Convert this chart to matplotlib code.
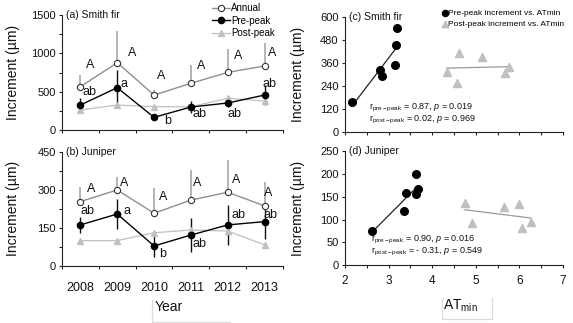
import numpy as np
import matplotlib
matplotlib.use("Agg")
import matplotlib.pyplot as plt
from matplotlib.lines import Line2D
from matplotlib.ticker import MultipleLocator, FixedLocator

plt.rcParams["font.family"] = ["Liberation Sans", "DejaVu Sans"]
plt.rcParams["mathtext.fontset"] = "custom"
plt.rcParams["mathtext.rm"] = "Liberation Sans"
plt.rcParams["mathtext.it"] = "Liberation Sans:italic"
plt.rcParams["mathtext.default"] = "regular"

# ---- data ----
years = ["2008", "2009", "2010", "2011", "2012", "2013"]

fir_annual = [565, 878, 456, 609, 752, 835]
fir_annual_err = [152, 417, 60, 239, 300, 295]
fir_pre = [326, 552, 165, 300, 352, 456]
fir_pre_err = [87, 235, 30, 80, 50, 135]
fir_post = [261, 326, 304, 304, 413, 378]
fir_upper = ["A", "A", "A", "A", "A", "A"]
fir_lower = ["ab", "a", "b", "ab", "ab", "ab"]

jun_annual = [253, 299, 207, 259, 290, 236]
jun_annual_err = [59, 52, 98, 119, 127, 93]
jun_pre = [161, 204, 78, 121, 161, 174]
jun_pre_err = [33, 60, 42, 66, 79, 70]
jun_post = [99, 99, 130, 141, 137, 82]
jun_upper = ["A", "A", "A", "A", "A", "A"]
jun_lower = ["ab", "a", "b", "ab", "ab", "ab"]

fir_pre_at = [2.17, 2.80, 2.84, 3.15, 3.18, 3.20]
fir_pre_inc = [157, 322, 292, 348, 452, 539]
fir_post_at = [4.33, 4.62, 4.57, 5.15, 5.66, 5.76]
fir_post_inc = [313, 412, 256, 388, 304, 339]

jun_pre_at = [2.61, 3.35, 3.41, 3.63, 3.63, 3.68]
jun_pre_inc = [75, 119, 159, 200, 156, 167]
jun_post_at = [4.75, 4.92, 5.65, 5.99, 6.07, 6.26]
jun_post_inc = [137, 92, 128, 134, 81, 95]

fir_stats = ["0.87", "0.019", "0.02", "0.969"]
jun_stats = ["0.90", "0.016", "- 0.31", "0.549"]

# letter placement (x offset in categories, y in data units)
fir_upper_pos = [(0.27, 848), (0.41, 1008), (0.18, 704), (0.27, 835), (0.28, 965), (0.21, 1000)]
fir_lower_pos = [(0.26, 491), (0.18, 600), (0.37, 122), (0.22, 204), (0.19, 204), (0.14, 596)]
jun_upper_pos = [(0.30, 302), (0.18, 328), (0.24, 272), (0.17, 325), (0.22, 338), (0.10, 288)]
jun_lower_pos = [(0.18, 216), (0.27, 216), (0.22, 46), (0.24, 86), (0.30, 200), (0.15, 200)]

C_ANN = "#8f8f8f"
C_POST = "#c0c0c0"
TXT = "#111111"

W, H = 573, 323
fig = plt.figure(figsize=(W / 100, H / 100), dpi=100)


def box(x0, y0, x1, y1):
    return [x0 / W, 1 - y1 / H, (x1 - x0) / W, (y1 - y0) / H]


ax_a = fig.add_axes(box(62, 15, 283, 130))
ax_b = fig.add_axes(box(62, 151.7, 283, 265.7))
ax_c = fig.add_axes(box(345, 16.7, 563, 131.7))
ax_d = fig.add_axes(box(345, 151.3, 563, 265))


def style(ax):
    for s in ("top", "right"):
        ax.spines[s].set_visible(False)
    for s in ("left", "bottom"):
        ax.spines[s].set_linewidth(0.8)
        ax.spines[s].set_color("#222222")
    ax.tick_params(which="both", direction="out", length=2.5, width=0.8,
                   colors="#222222", labelsize=8, pad=2, labelcolor=TXT)
    ax.tick_params(which="minor", length=2.5)


def series_panel(ax, annual, annual_err, pre, pre_err, post, upper, lower,
                 upper_pos, lower_pos, ymax, ystep, title, show_x):
    x = np.arange(len(years))
    ax.errorbar(x, annual, yerr=[np.zeros(len(x)), annual_err], fmt="none",
                ecolor="#a8a8a8", elinewidth=1.2, capsize=0, zorder=1)
    ax.errorbar(x, pre, yerr=pre_err, fmt="none", ecolor="#111111",
                elinewidth=1.0, capsize=0, zorder=2)
    ax.plot(x, post, color=C_POST, lw=0.9, marker="^", ms=5, mfc=C_POST,
            mec=C_POST, zorder=3, label="Post-peak")
    ax.plot(x, pre, color="black", lw=1.0, marker="o", ms=4.5, mfc="black",
            mec="black", zorder=4, label="Pre-peak")
    ax.plot(x, annual, color=C_ANN, lw=1.0, marker="o", ms=4.5, mfc="white",
            mec="#333333", mew=0.8, zorder=5, label="Annual")
    for i in range(len(x)):
        dx, yy = upper_pos[i]
        ax.text(i + dx, yy, upper[i], ha="center", va="center", fontsize=9, color=TXT)
        dx, yy = lower_pos[i]
        ax.text(i + dx, yy, lower[i], ha="center", va="center", fontsize=9, color=TXT)
    ax.set_xlim(-0.5, len(x) - 0.5)
    ax.set_ylim(0, ymax)
    ax.yaxis.set_major_locator(MultipleLocator(ystep))
    ax.yaxis.set_minor_locator(MultipleLocator(ystep / 2))
    ax.xaxis.set_major_locator(FixedLocator(np.arange(-0.5, len(x), 1.0)))
    ax.xaxis.set_minor_locator(FixedLocator(x))
    ax.set_xticklabels([])
    if show_x:
        ax.set_xticklabels(years, minor=True)
    ax.tick_params(axis="x", which="minor", length=0, pad=11.5, labelsize=9)
    ax.set_ylabel("Increment (\u00b5m)", fontsize=10, color=TXT)
    ax.yaxis.set_label_coords(-0.19, 0.5)
    ax.text(0.02, 1.0, title, transform=ax.transAxes, ha="left", va="center",
            fontsize=7.5, color=TXT)


def scatter_panel(ax, pre_x, pre_y, post_x, post_y, stats, ymax, ystep, title,
                  show_x, text_xy):
    ax.scatter(pre_x, pre_y, s=30, color="black", zorder=3,
               label="Pre-peak increment vs. ATmin")
    ax.scatter(post_x, post_y, s=34, marker="^", color=C_POST, zorder=3,
               label="Post-peak increment vs. ATmin")
    for xs, ys, col in ((pre_x, pre_y, "#222222"), (post_x, post_y, "#9a9a9a")):
        k, b = np.polyfit(xs, ys, 1)
        xl = np.array([min(xs), max(xs)])
        ax.plot(xl, k * xl + b, color=col, lw=0.9, zorder=2)
    ax.set_xlim(2, 7)
    ax.set_ylim(0, ymax)
    ax.xaxis.set_major_locator(MultipleLocator(1))
    ax.xaxis.set_minor_locator(MultipleLocator(0.5))
    ax.yaxis.set_major_locator(MultipleLocator(ystep))
    if not show_x:
        ax.set_xticklabels([])
    ax.tick_params(axis="x", pad=5, labelsize=8.5)
    ax.set_ylabel("Increment (\u00b5m)", fontsize=10, color=TXT)
    ax.yaxis.set_label_coords(-0.183, 0.5)
    ax.text(0.02, 1.0, title, transform=ax.transAxes, ha="left", va="center",
            fontsize=7.5, color=TXT)
    tx, ty = text_xy
    ax.text(tx, ty, "r$_{\\mathrm{pre-peak}}$ = %s, $\\mathit{p}$ = %s" % (stats[0], stats[1]),
            transform=ax.transAxes, fontsize=6.5, ha="left", va="center", color=TXT)
    ax.text(tx, ty - 0.105, "r$_{\\mathrm{post-peak}}$ = %s, $\\mathit{p}$ = %s" % (stats[2], stats[3]),
            transform=ax.transAxes, fontsize=6.5, ha="left", va="center", color=TXT)


for ax in (ax_a, ax_b, ax_c, ax_d):
    style(ax)

series_panel(ax_a, fir_annual, fir_annual_err, fir_pre, fir_pre_err, fir_post,
             fir_upper, fir_lower, fir_upper_pos, fir_lower_pos, 1500, 500,
             "(a) Smith fir", False)
series_panel(ax_b, jun_annual, jun_annual_err, jun_pre, jun_pre_err, jun_post,
             jun_upper, jun_lower, jun_upper_pos, jun_lower_pos, 450, 150,
             "(b) Juniper", True)
scatter_panel(ax_c, fir_pre_at, fir_pre_inc, fir_post_at, fir_post_inc, fir_stats,
              600, 120, "(c) Smith fir", False, (0.11, 0.21))
scatter_panel(ax_d, jun_pre_at, jun_pre_inc, jun_post_at, jun_post_inc, jun_stats,
              250, 50, "(d) Juniper", True, (0.12, 0.22))

h, l = ax_a.get_legend_handles_labels()
order = [2, 1, 0]
fig.legend([h[i] for i in order], [l[i] for i in order], loc="upper left",
           bbox_to_anchor=(207 / W, 1.005), frameon=False, fontsize=7,
           handlelength=1.9, handletextpad=0.1, labelspacing=0.25, borderpad=0)

h, l = ax_c.get_legend_handles_labels()
fig.legend(h, l, loc="upper left", bbox_to_anchor=(438 / W, 1 - 5 / H),
           frameon=False, fontsize=6, handlelength=0.6, handletextpad=0.1,
           labelspacing=0.35, borderpad=0, markerscale=0.8)

fig.text(169 / W, 1 - 307 / H, "Year", ha="center", va="center", fontsize=10, color=TXT)
fig.text(460 / W, 1 - 306 / H, "AT$_{\\mathrm{min}}$", ha="center", va="center",
         fontsize=10, color=TXT)

# faint text-box borders around the axis titles
for xs, ys in (([151.7, 151.7, 230], [300, 321.7, 321.7]),
               ([442.3, 442.3, 492.3, 492.3], [298, 319.3, 319.3, 298])):
    fig.add_artist(Line2D([x / W for x in xs], [1 - y / H for y in ys],
                          color="#dcdcdc", lw=0.9))

fig.savefig("out.png", dpi=100)
